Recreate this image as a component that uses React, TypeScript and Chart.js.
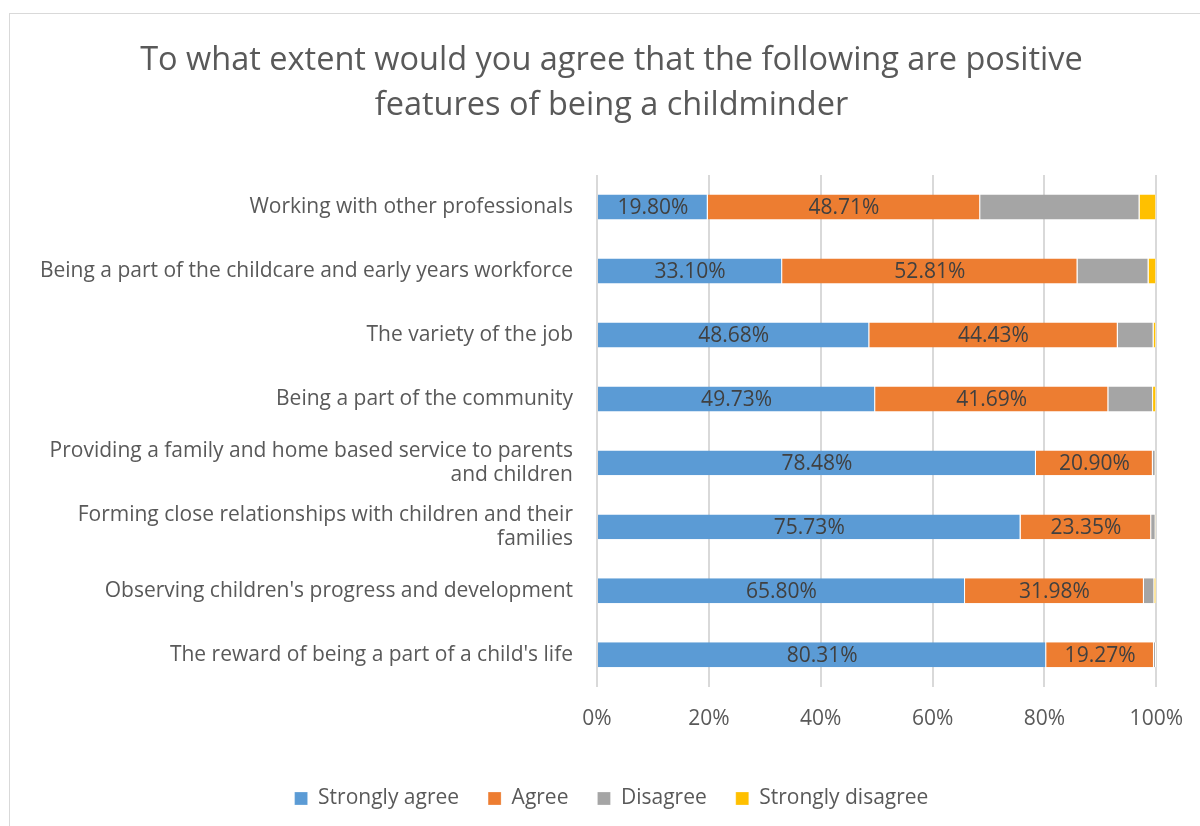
import React, { useEffect, useRef } from "react";
import { Chart, registerables } from "chart.js";

Chart.register(...registerables);

const categories: (string | string[])[] = [
  "Working with other professionals",
  "Being a part of the childcare and early years workforce",
  "The variety of the job",
  "Being a part of the community",
  ["Providing a family and home based service to parents", "and children"],
  ["Forming close relationships with children and their", "families"],
  "Observing children's progress and development",
  "The reward of being a part of a child's life",
];

const stronglyAgree = [19.8, 33.1, 48.68, 49.73, 78.48, 75.73, 65.8, 80.31];
const agree = [48.71, 52.81, 44.43, 41.69, 20.9, 23.35, 31.98, 19.27];
const disagree = [28.49, 12.7, 6.4, 8.0, 0.5, 0.8, 1.87, 0.36];
const stronglyDisagree = [3.0, 1.39, 0.49, 0.58, 0.12, 0.12, 0.35, 0.06];

const xTicks = [0, 20, 40, 60, 80, 100];

const FONT = "'Open Sans', 'DejaVu Sans', sans-serif";
const TEXT = "#595959";

const labelPlugin = {
  id: "segLabels",
  afterDatasetsDraw(chart: any) {
    const ctx = chart.ctx;
    ctx.save();
    ctx.font = `21px ${FONT}`;
    ctx.fillStyle = "#404040";
    ctx.textAlign = "center";
    ctx.textBaseline = "middle";
    [0, 1].forEach((di) => {
      const meta = chart.getDatasetMeta(di);
      const data = chart.data.datasets[di].data as number[];
      meta.data.forEach((el: any, i: number) => {
        const x = (el.x + el.base) / 2;
        ctx.fillText(data[i].toFixed(2) + "%", x, el.y + 1);
      });
    });
    ctx.restore();
  },
};

export default function App() {
  const ref = useRef<HTMLCanvasElement>(null);
  useEffect(() => {
    if (!ref.current) return;
    const mk = (label: string, data: number[], color: string) => ({
      label,
      data,
      backgroundColor: color,
      borderColor: "#ffffff",
      borderWidth: { right: 1 } as any,
      borderSkipped: false as any,
      categoryPercentage: 1,
      barPercentage: 0.39,
    });
    const chart = new Chart(ref.current, {
      type: "bar",
      data: {
        labels: categories,
        datasets: [
          mk("Strongly agree", stronglyAgree, "#5b9bd5"),
          mk("Agree", agree, "#ed7d31"),
          mk("Disagree", disagree, "#a5a5a5"),
          mk("Strongly disagree", stronglyDisagree, "#ffc000"),
        ],
      },
      options: {
        indexAxis: "y",
        animation: false,
        responsive: false,
        layout: { padding: { left: 30, right: 20, top: 14, bottom: 13 } },
        scales: {
          x: {
            stacked: true,
            min: 0,
            max: 100,
            afterBuildTicks: (axis: any) => {
              axis.ticks = xTicks.map((v) => ({ value: v }));
            },
            afterFit: (axis: any) => {
              axis.height += 7;
            },
            ticks: {
              callback: (v: any) => v + "%",
              color: TEXT,
              font: { family: FONT, size: 21 },
              padding: 20,
            },
            grid: { color: "#d9d9d9", lineWidth: 2, drawTicks: false },
            border: { display: false },
          },
          y: {
            stacked: true,
            afterFit: (axis: any) => {
              axis.width = 557;
            },
            ticks: {
              color: TEXT,
              font: { family: FONT, size: 21, lineHeight: 1.15 },
              padding: 24,
            },
            grid: { display: false, drawTicks: false },
            border: { display: false },
          },
        },
        plugins: {
          title: {
            display: true,
            text: [
              "To what extent would you agree that the following are positive",
              "features of being a childminder",
            ],
            color: TEXT,
            font: { family: FONT, size: 32.5, weight: "normal" as any, lineHeight: 1.385 },
            padding: { top: 10, bottom: 47 },
          },
          legend: {
            position: "bottom",
            labels: {
              color: TEXT,
              font: { family: FONT, size: 21 },
              boxWidth: 13,
              boxHeight: 13,
              padding: 29,
            },
          },
          tooltip: { enabled: false },
        },
      },
      plugins: [labelPlugin],
    });
    return () => chart.destroy();
  }, []);
  return (
    <div
      style={{
        position: "fixed",
        left: 0,
        top: 0,
        width: 1200,
        height: 826,
        overflow: "hidden",
        background: "#fff",
      }}
    >
      <div
        style={{
          position: "absolute",
          left: 9,
          top: 13,
          width: 1195,
          height: 830,
          border: "1px solid #d9d9d9",
          boxSizing: "border-box",
          background: "#fff",
        }}
      >
        <canvas ref={ref} width={1193} height={818} style={{ display: "block" }} />
      </div>
    </div>
  );
}
